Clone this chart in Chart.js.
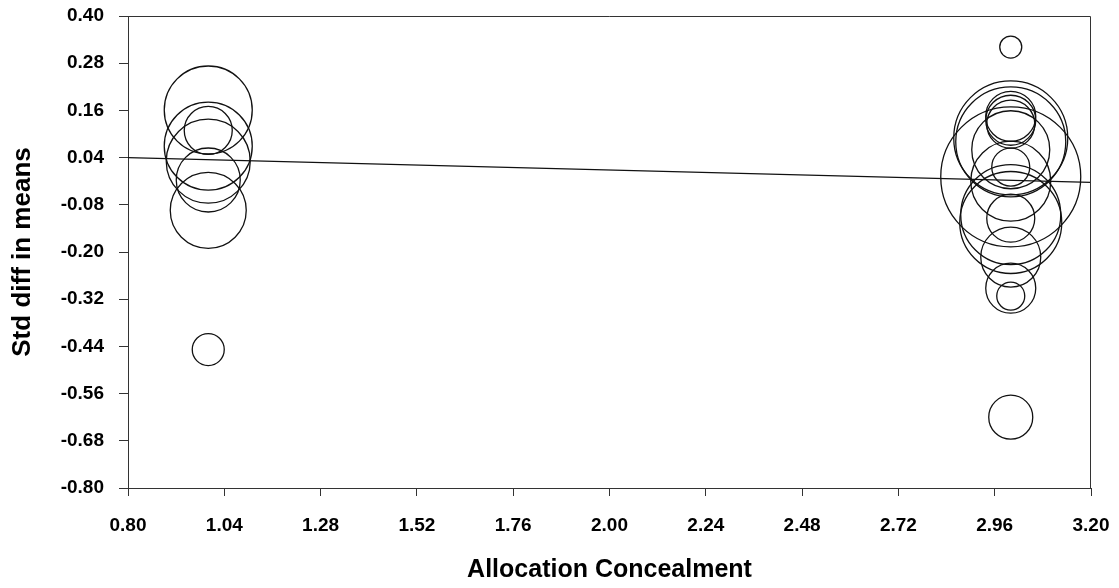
<!DOCTYPE html>
<html>
<head>
<meta charset="utf-8">
<script src="https://cdn.jsdelivr.net/npm/chart.js@4/dist/chart.umd.min.js"></script>
<style>
  html, body { margin: 0; padding: 0; background: #fff; }
  #wrap { width: 1119px; height: 588px; }
</style>
</head>
<body>
<div id="wrap"><canvas id="grafico"></canvas></div>
<script>
// studies: allocation concealment score, std diff in means, weight (bubble radius)
const concealment = [1, 1, 1, 1, 1, 1, 1,
  3, 3, 3, 3, 3, 3, 3, 3, 3, 3, 3, 3, 3, 3, 3, 3, 3];
const stdDiff = [0.161, 0.109, 0.069, 0.031, -0.017, -0.094, -0.448,
  0.321, 0.145, 0.135, 0.125, 0.090, 0.080, 0.060, 0.016, -0.009, -0.020,
  -0.105, -0.125, -0.114, -0.213, -0.292, -0.312, -0.620];
const weight = [44, 24, 44, 42, 32, 38, 16,
  11, 25, 25, 24, 57, 55, 39, 19, 70, 40,
  50, 51, 24, 30, 25, 14, 22];

// fitted regression line
const lineX = [0.80, 3.20];
const lineY = [0.040, -0.023];

const xTicks = [0.80, 1.04, 1.28, 1.52, 1.76, 2.00, 2.24, 2.48, 2.72, 2.96, 3.20];
const yTicks = [-0.80, -0.68, -0.56, -0.44, -0.32, -0.20, -0.08, 0.04, 0.16, 0.28, 0.40];

const FONT = "'Liberation Sans', Arial, sans-serif";

const bubbles = concealment.map((x, i) => ({ x: x, y: stdDiff[i], r: weight[i] }));
const regression = lineX.map((x, i) => ({ x: x, y: lineY[i] }));

// top and right edges of the plot box
const frame = {
  id: "frame",
  afterDraw(chart) {
    const { ctx, chartArea: a } = chart;
    ctx.save();
    ctx.strokeStyle = "#333";
    ctx.lineWidth = 1;
    ctx.beginPath();
    ctx.moveTo(a.left, a.top + 0.5);
    ctx.lineTo(a.right - 0.5, a.top + 0.5);
    ctx.lineTo(a.right - 0.5, a.bottom);
    ctx.stroke();
    ctx.restore();
  },
};

new Chart(document.getElementById("grafico"), {
  type: "bubble",
  data: {
    datasets: [
      {
        type: "line",
        data: regression,
        borderColor: "#111",
        borderWidth: 1.2,
        pointRadius: 0,
        fill: false,
      },
      {
        data: bubbles,
        backgroundColor: "rgba(0,0,0,0)",
        borderColor: "#111",
        borderWidth: 1.3,
        hoverRadius: 0,
        clip: false,
      },
    ],
  },
  options: {
    responsive: true,
    maintainAspectRatio: false,
    animation: false,
    events: [],
    layout: { autoPadding: false, padding: { top: 16, right: 28, left: 0, bottom: 0 } },
    plugins: { legend: { display: false }, tooltip: { enabled: false } },
    scales: {
      x: {
        type: "linear",
        min: 0.8,
        max: 3.2,
        afterFit: (s) => {
          s.height = 100;
          s.paddingLeft = 0;
          s.paddingRight = 0;
        },
        afterBuildTicks: (s) => { s.ticks = xTicks.map((v) => ({ value: v })); },
        border: { color: "#333", width: 1 },
        grid: { drawOnChartArea: false, tickLength: 8, tickColor: "#333" },
        ticks: {
          color: "#000",
          font: { family: FONT, size: 19, weight: "bold" },
          padding: 18,
          maxRotation: 0,
          callback: (v) => v.toFixed(2),
        },
        title: {
          display: true,
          text: "Allocation Concealment",
          color: "#000",
          font: { family: FONT, size: 25, weight: "bold" },
          padding: { top: 0, bottom: 3 },
        },
      },
      y: {
        type: "linear",
        min: -0.8,
        max: 0.4,
        afterFit: (s) => {
          s.width = 128;
          s.paddingTop = 0;
          s.paddingBottom = 0;
        },
        afterBuildTicks: (s) => { s.ticks = yTicks.map((v) => ({ value: v })); },
        border: { color: "#333", width: 1 },
        grid: { drawOnChartArea: false, tickLength: 9, tickColor: "#333" },
        ticks: {
          color: "#000",
          font: { family: FONT, size: 19, weight: "bold" },
          padding: 15,
          callback: (v) => v.toFixed(2),
        },
        title: {
          display: true,
          text: "Std diff in means",
          color: "#000",
          font: { family: FONT, size: 26, weight: "bold" },
          padding: { top: 7, bottom: 0 },
        },
      },
    },
  },
  plugins: [frame],
});
</script>
</body>
</html>
